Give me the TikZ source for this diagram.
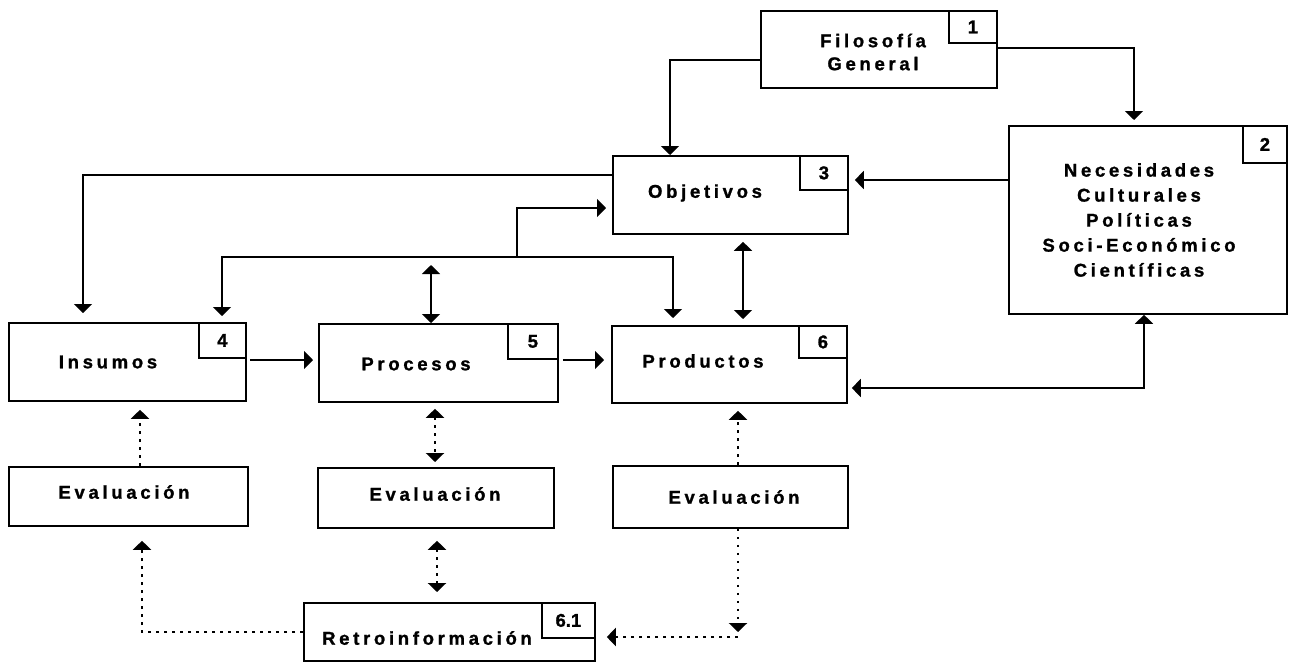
\documentclass[tikz,border=0pt]{standalone}
\usepackage{fontspec}
\setmainfont{Liberation Sans}
\newfontfamily\spaced{Liberation Sans}[LetterSpace=20,BoldFeatures={FakeBold=1.2}]
\newfontfamily\numf{Liberation Sans}[BoldFeatures={FakeBold=1.2}]
\usetikzlibrary{arrows.meta,calc}
\begin{document}
\begin{tikzpicture}[x=1pt,y=-1pt,
  box/.style={draw,line width=1.8pt,rectangle,inner sep=0pt,anchor=north west},
  numbox/.style={draw,line width=1.8pt,rectangle,inner sep=0pt,anchor=north east,font=\numf\bfseries\fontsize{18.5}{18.5}\selectfont},
  lbl/.style={font=\spaced\bfseries\fontsize{18.5}{23}\selectfont,align=center,inner sep=0pt},
  conn/.style={line width=1.5pt},
  tip/.tip={Triangle[width=18pt,length=9pt]},
  arr/.style={conn,-tip},
  darr/.style={conn,tip-tip},
  dot/.style={line width=2.6pt,dash pattern=on 2.6pt off 5.4pt},
  dotarr/.style={dot,-tip},
  dotdarr/.style={dot,tip-tip}]
\useasboundingbox (0,0) rectangle (1289,662);

% boxes
\node[box,minimum width=236pt,minimum height=77pt] (fil) at (760,10) {};
\node[numbox,minimum width=48pt,minimum height=32pt] (n1) at (fil.north east) {1};
\node[lbl] (tfil) at (873,52) {Filosofía\\General};

\node[box,minimum width=235pt,minimum height=78pt] (obj) at (612,155) {};
\node[numbox,minimum width=48pt,minimum height=34pt] (n3) at (obj.north east) {3};
\node[lbl] (tobj) at (705,193) {Objetivos};

\node[box,minimum width=278pt,minimum height=188pt] (nec) at (1008,125) {};
\node[numbox,minimum width=44pt,minimum height=37pt] (n2) at (nec.north east) {2};
\node[lbl,font=\spaced\bfseries\fontsize{18.5}{25}\selectfont] (tnec) at (1139,220) {Necesidades\\Culturales\\Políticas\\Soci-Económico\\Científicas};

\node[box,minimum width=237pt,minimum height=78pt] (ins) at (8,322) {};
\node[numbox,minimum width=47pt,minimum height=35pt] (n4) at (ins.north east) {4};
\node[lbl] (tins) at (108,362) {Insumos};

\node[box,minimum width=239pt,minimum height=78pt] (pro) at (318,323) {};
\node[numbox,minimum width=50pt,minimum height=35pt] (n5) at (pro.north east) {5};
\node[lbl] (tpro) at (416,364) {Procesos};

\node[box,minimum width=235pt,minimum height=77pt] (prd) at (611,325) {};
\node[numbox,minimum width=48pt,minimum height=32pt] (n6) at (prd.north east) {6};
\node[lbl] (tprd) at (703,361) {Productos};

\node[box,minimum width=239pt,minimum height=59pt] (ev1) at (8,466) {};
\node[lbl] (tev1) at (124,492) {Evaluación};
\node[box,minimum width=236pt,minimum height=60pt] (ev2) at (317,467) {};
\node[lbl] (tev2) at (435,494) {Evaluación};
\node[box,minimum width=235pt,minimum height=62pt] (ev3) at (612,465) {};
\node[lbl] (tev3) at (734,497) {Evaluación};

\node[box,minimum width=291pt,minimum height=58pt] (ret) at (303,602) {};
\node[numbox,minimum width=53pt,minimum height=35pt] (n61) at (ret.north east) {6.1};
\node[lbl] (tret) at (427,638) {Retroinformación};

% connectors
\coordinate (c1) at (670,60);
\draw[arr] (fil.west |- c1) -- (c1) -- (c1 |- obj.north);
\coordinate (c2) at (1134,48);
\draw[arr,shorten >=5pt] (fil.east |- c2) -- (c2) -- (c2 |- nec.north);
\coordinate (c3) at (1008,180);
\draw[arr,shorten >=6pt] (nec.west |- c3) -- (obj.east |- c3);
\coordinate (c4) at (83,175);
\draw[arr,shorten >=9pt] (obj.west |- c4) -- (c4) -- (c4 |- ins.north);

\coordinate (b0) at (517,257);
\coordinate (b1) at (517,208);
\coordinate (bl) at (222,257);
\coordinate (br) at (673,257);
\draw[arr,shorten >=6pt] (b0) -- (b1) -- (obj.west |- b1);
\draw[arr,shorten >=6pt] (b0) -- (bl) -- (bl |- ins.north);
\draw[arr,shorten >=7pt] (b0) -- (br) -- (br |- prd.north);

\coordinate (d1) at (431,265);
\draw[darr] (d1) -- (d1 |- pro.north);
\coordinate (d2) at (743,0);
\draw[darr,shorten <=7pt,shorten >=6pt] (d2 |- obj.south) -- (d2 |- prd.north);
\coordinate (d3) at (1144,388);
\draw[darr,shorten >=4pt] (d3 |- nec.south) -- (d3) -- (prd.east |- d3);

\coordinate (h1) at (0,360);
\draw[arr,shorten <=3pt,shorten >=5pt] (ins.east |- h1) -- (pro.west |- h1);
\draw[arr,shorten <=4pt,shorten >=7pt] (pro.east |- h1) -- (prd.west |- h1);

% dotted
\coordinate (e1) at (140,0);
\draw[dotarr,shorten >=8pt] (e1 |- ev1.north) -- (e1 |- ins.south);
\coordinate (e2) at (435,0);
\draw[dotdarr,shorten <=6pt,shorten >=5pt] (e2 |- pro.south) -- (e2 |- ev2.north);
\coordinate (e3) at (738,0);
\draw[dotarr,shorten >=7pt] (e3 |- ev3.north) -- (e3 |- prd.south);
\coordinate (e4) at (437,0);
\draw[dotdarr,shorten <=12pt,shorten >=10pt] (e4 |- ev2.south) -- (e4 |- ret.north);
\coordinate (e5) at (142,632);
\draw[dotarr,shorten >=14pt] (ret.west |- e5) -- (e5) -- (e5 |- ev1.south);
\coordinate (e6) at (738,632);
\coordinate (e7) at (738,637);
\draw[dotarr] (e3 |- ev3.south) -- (e6);
\draw[dotarr,shorten >=11pt] (e7) -- (ret.east |- e7);
\end{tikzpicture}
\end{document}
